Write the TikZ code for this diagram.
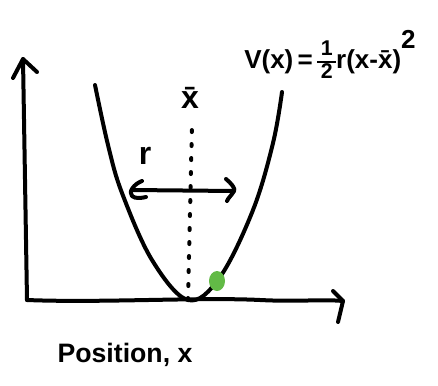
\documentclass[tikz,border=0pt]{standalone}
\usepackage{fontspec}
\setmainfont{Liberation Sans}
\definecolor{dotgreen}{RGB}{98,186,70}
\newcommand{\halffrac}{{\setlength{\arrayrulewidth}{1.6pt}\renewcommand{\arraystretch}{0.85}\fontsize{16}{17}\selectfont\bfseries\begin{tabular}[c]{@{\,}c@{\,}}1\\\hline 2\end{tabular}}}
\begin{document}
\begin{tikzpicture}[x=0.75pt,y=-0.75pt,
  ink/.style={line width=3pt,line cap=round,line join=round},
  dots/.style={line width=3pt,line cap=round,dash pattern=on 1.5pt off 9pt},
  lbl/.style={inner sep=0pt,font=\fontsize{20}{24}\selectfont\bfseries},
  eqlbl/.style={inner sep=0pt,font=\fontsize{19.5}{22}\selectfont\bfseries}]
\useasboundingbox (0,0) rectangle (438,385);
% axes
\coordinate (o) at (27,300);
\coordinate (ytop) at (23,59);
\coordinate (xend) at (343,301);
\draw[ink] (o) -- (ytop);
\draw[ink] (13,78) -- (ytop) -- (37,72);
\draw[ink] (o) .. controls (100,303) and (200,297) .. (260,300) .. controls (300,302) and (320,299) .. (xend);
\draw[ink] (333,291) -- (xend) -- (338,322);
% parabola
\draw[ink] plot[smooth,tension=0.6] coordinates {(95,85) (108,145) (122,193) (152,260) (188,300) (220,277) (253,210) (273,143) (282,92)};
% mean line
\coordinate (bot) at (188,300);
\coordinate (topd) at (192,125);
\draw[dots] (bot) -- (topd);
\node[lbl,font=\fontsize{24}{26}\selectfont\bfseries] (xbar) at (190,98) {\=x};
% width arrow
\coordinate (al) at (132,190);
\coordinate (ar) at (234,191);
\draw[ink] (al) -- (ar);
\draw[ink] (142,181) .. controls (134,184) and (128,192) .. (132,196) .. controls (135,199) and (142,198) .. (146,197);
\draw[ink] (226,179) .. controls (231,183) and (236,189) .. (ar) .. controls (232,195) and (228,198) .. (227,201);
\node[lbl,font=\fontsize{24}{26}\selectfont\bfseries] (r) at (145,156) {r};
% particle
\fill[dotgreen] (217,281) ellipse (8 and 10);
% labels
\node[eqlbl,anchor=west] (eq) at (244,57) {V(x)\,=\,\halffrac r(x-\=x)\raisebox{15pt}{2}};
\node[lbl] (pos) at (125,355) {Position, x};
\end{tikzpicture}
\end{document}
